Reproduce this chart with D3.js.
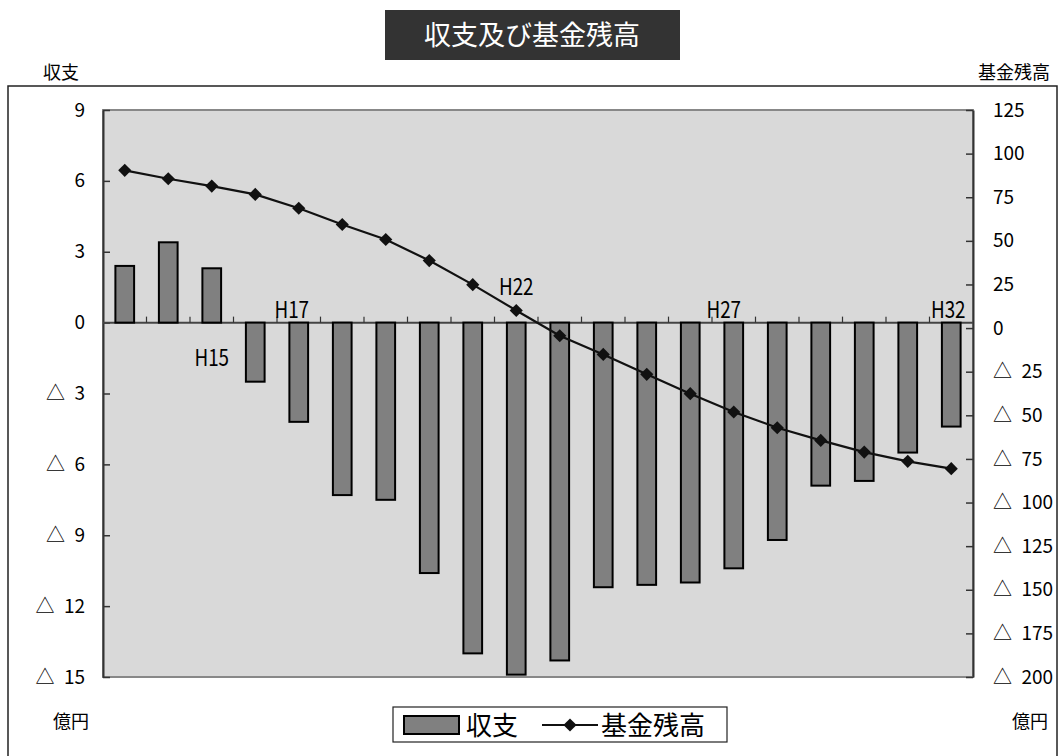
<!DOCTYPE html>
<html>
<head>
<meta charset="utf-8">
<script src="https://cdn.jsdelivr.net/npm/d3@7"></script>
<style>
  html, body { margin: 0; padding: 0; background: #fff; }
  svg { display: block; font-family: "Noto Sans CJK JP", "Noto Sans", sans-serif; }
</style>
</head>
<body>
<svg id="chart" width="1060" height="756"></svg>
<script>
// 年度（平成）
const categories = ["H13","H14","H15","H16","H17","H18","H19","H20","H21","H22",
                    "H23","H24","H25","H26","H27","H28","H29","H30","H31","H32"];
// 収支（億円）
const balance = [2.4, 3.4, 2.3, -2.5, -4.2, -7.3, -7.5, -10.6, -14.0, -14.9,
                 -14.3, -11.2, -11.1, -11.0, -10.4, -9.2, -6.9, -6.7, -5.5, -4.4];
// 基金残高（億円）
const fund = [90.4, 85.6, 81.4, 76.6, 68.7, 59.4, 50.8, 38.7, 24.9, 10.1,
              -4.4, -15.1, -26.5, -37.6, -48.1, -57.1, -64.4, -71.1, -76.4, -80.6];
// 軸目盛
const leftTicks = [9, 6, 3, 0, -3, -6, -9, -12, -15];
const rightTicks = [125, 100, 75, 50, 25, 0, -25, -50, -75, -100, -125, -150, -175, -200];
// 年度ラベルを表示する年度
const yearLabels = ["H15", "H17", "H22", "H27", "H32"];

const svg = d3.select("#chart");
const plot = { left: 103, right: 973, top: 110, bottom: 677 };

const x = d3.scaleBand().domain(categories)
  .range([plot.left, plot.right]).paddingInner(0.57).paddingOuter(0.285);
const yL = d3.scaleLinear().domain([-15, 9]).range([plot.bottom, plot.top]);
const yR = d3.scaleLinear().domain([-200, 125]).range([plot.bottom, plot.top]);
const cx = d => x(d) + x.bandwidth() / 2;
// 負の値は「△」表記
const fmt = d => d < 0 ? "△\u2002" + (-d) : String(d);

// 外枠
svg.append("rect").attr("x", 8).attr("y", 86).attr("width", 1049).attr("height", 720)
  .attr("fill", "none").attr("stroke", "#222").attr("stroke-width", 1.5);

// タイトル
svg.append("rect").attr("x", 385).attr("y", 10).attr("width", 295).attr("height", 50).attr("fill", "#333");
svg.append("text").attr("x", 532).attr("y", 45).attr("text-anchor", "middle")
  .attr("fill", "#fff").attr("font-size", 27).text("収支及び基金残高");

// 軸タイトル・単位
svg.append("text").attr("x", 61).attr("y", 79).attr("text-anchor", "middle").attr("font-size", 18).text("収支");
svg.append("text").attr("x", 1014).attr("y", 79).attr("text-anchor", "middle").attr("font-size", 18).text("基金残高");
svg.append("text").attr("x", 71).attr("y", 728).attr("text-anchor", "middle").attr("font-size", 18).text("億円");
svg.append("text").attr("x", 1030).attr("y", 728).attr("text-anchor", "middle").attr("font-size", 18).text("億円");

// プロット領域
svg.append("rect").attr("x", plot.left).attr("y", plot.top)
  .attr("width", plot.right - plot.left).attr("height", plot.bottom - plot.top)
  .attr("fill", "#d9d9d9").attr("stroke", "#888").attr("stroke-width", 2);

// 左軸
const axL = svg.append("g").attr("transform", `translate(${plot.left},0)`)
  .call(d3.axisLeft(yL).tickValues(leftTicks).tickSizeInner(-7).tickSizeOuter(0).tickPadding(18).tickFormat(fmt));
axL.select(".domain").attr("stroke", "#333").attr("stroke-width", 2);
axL.selectAll(".tick line").attr("stroke", "#333").attr("stroke-width", 1.5);
axL.selectAll(".tick text").attr("font-size", 19).attr("fill", "#000")
  .attr("font-family", "'Noto Sans CJK JP', sans-serif");

// 右軸
const axR = svg.append("g").attr("transform", `translate(${plot.right},0)`)
  .call(d3.axisRight(yR).tickValues(rightTicks).tickSizeInner(-7).tickSizeOuter(0).tickPadding(20).tickFormat(fmt));
axR.select(".domain").attr("stroke", "#333").attr("stroke-width", 2);
axR.selectAll(".tick line").attr("stroke", "#333").attr("stroke-width", 1.5);
axR.selectAll(".tick text").attr("font-size", 19).attr("fill", "#000")
  .attr("font-family", "'Noto Sans CJK JP', sans-serif");

// 横軸（ゼロ線）と区切り目盛
const zeroY = yL(0);
svg.append("line").attr("x1", plot.left).attr("x2", plot.right)
  .attr("y1", zeroY).attr("y2", zeroY).attr("stroke", "#444").attr("stroke-width", 2);
svg.append("g").selectAll("line").data(categories.slice(1)).join("line")
  .attr("x1", d => x(d) - x.step() * x.paddingInner() / 2)
  .attr("x2", d => x(d) - x.step() * x.paddingInner() / 2)
  .attr("y1", zeroY - 6).attr("y2", zeroY)
  .attr("stroke", "#333").attr("stroke-width", 1.2);

// 収支（棒）
svg.append("g").selectAll("rect").data(balance).join("rect")
  .attr("x", (d, i) => x(categories[i]))
  .attr("width", x.bandwidth())
  .attr("y", d => yL(Math.max(0, d)))
  .attr("height", d => Math.abs(yL(d) - yL(0)))
  .attr("fill", "#808080").attr("stroke", "#000").attr("stroke-width", 2);

// 基金残高（折れ線）
const line = d3.line().x((d, i) => cx(categories[i])).y(d => yR(d));
svg.append("path").datum(fund).attr("d", line)
  .attr("fill", "none").attr("stroke", "#111").attr("stroke-width", 2.2);
const diamond = d3.symbol().type(d3.symbolDiamond2).size(110);
svg.append("g").selectAll("path").data(fund).join("path")
  .attr("transform", (d, i) => `translate(${cx(categories[i])},${yR(d)})`)
  .attr("d", diamond).attr("fill", "#111");

// 年度ラベル
const labelPlacement = {
  H15: { dx: 0, y: 366 },
  H17: { dx: -7, y: 318 },
  H22: { dx: 0, y: 295 },
  H27: { dx: -10, y: 318 },
  H32: { dx: -3, y: 318 }
};
svg.append("g").selectAll("text").data(yearLabels).join("text")
  .attr("transform", d => `translate(${cx(d) + labelPlacement[d].dx},${labelPlacement[d].y}) scale(0.82,1)`)
  .attr("text-anchor", "middle").attr("font-size", 23).attr("fill", "#000")
  .text(d => d);

// 凡例
const lg = svg.append("g");
lg.append("rect").attr("x", 393).attr("y", 707).attr("width", 334).attr("height", 35)
  .attr("fill", "#fff").attr("stroke", "#222").attr("stroke-width", 1.2);
lg.append("rect").attr("x", 404).attr("y", 716).attr("width", 55).attr("height", 18)
  .attr("fill", "#808080").attr("stroke", "#000").attr("stroke-width", 2);
lg.append("text").attr("x", 466).attr("y", 735).attr("font-size", 26).text("収支");
lg.append("line").attr("x1", 542).attr("x2", 598).attr("y1", 725).attr("y2", 725)
  .attr("stroke", "#111").attr("stroke-width", 2.2);
lg.append("path").attr("transform", "translate(570,725)").attr("d", diamond).attr("fill", "#111");
lg.append("text").attr("x", 601).attr("y", 735).attr("font-size", 26).text("基金残高");
</script>
</body>
</html>
